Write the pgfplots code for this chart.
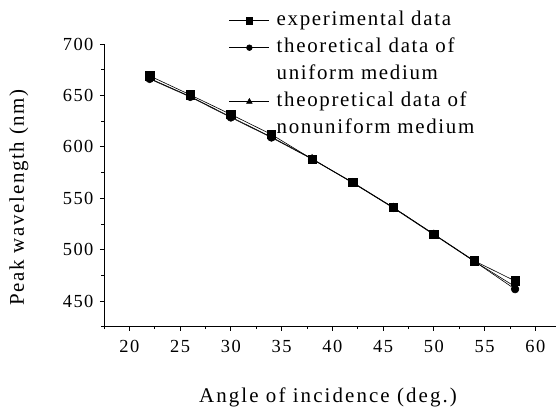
\documentclass[border=0pt]{standalone}
\usepackage{fontspec}
\setmainfont{Liberation Serif}[LetterSpace=8]
\newfontfamily\legfont{Liberation Serif}[LetterSpace=8]
\newfontfamily\labfont{Liberation Serif}[LetterSpace=10]
\newfontfamily\ylabfont{Liberation Serif}[LetterSpace=8]
\usepackage{pgfplots}
\pgfplotsset{compat=1.18}

\pgfplotstableread{
x   expd   unif   nonu
22  669    666    666.5
26  650.5  648.5  649
30  631.5  628.5  629
34  612    609    609.5
38  588    588    588.5
42  565.5  565    565
46  541    540.5  541
50  515    514.5  515
54  489    488.5  488.5
58  469.5  461.5  464
}\peak

\begin{document}
\begin{tikzpicture}
\begin{axis}[
  name=ax, at={(0,0)}, anchor=south west,
  x=10.15bp, y=1.028bp,
  xmin=17.5, xmax=62, ymin=425, ymax=700,
  axis lines=left, axis line style={-, line width=0.9pt},
  xtick={20,25,...,60}, ytick={450,500,...,700},
  minor xtick={17.5,22.5,...,57.5}, minor ytick={425,475,...,675},
  tick align=outside, major tick length=4bp, minor tick length=2.5bp,
  every tick/.style={black, line width=0.8pt},
  tick label style={font=\fontsize{18.5}{21}\selectfont},
  /pgf/number format/assume math mode=true,
  xticklabel style={yshift=-6bp},
  yticklabel style={xshift=-3bp},
  xlabel={Angle of incidence (deg.)},
  ylabel={Peak wavelength (nm)},
  xlabel style={font=\labfont\fontsize{21}{24}\selectfont,
    at={(axis description cs:0.496,0)}, anchor=base, yshift=-76bp},
  ylabel style={font=\ylabfont\fontsize{21}{24}\selectfont,
    at={(axis description cs:0,0.457)}, anchor=south, yshift=72bp},
  clip=false,
  legend style={at={(0.2765,1.115)}, anchor=north west, draw=none, fill=none,
    font=\legfont\fontsize{21}{24}\selectfont, row sep=9bp, inner sep=0pt,
    nodes={inner sep=0pt, text height=14bp, text depth=4bp}},
  legend cell align=left,
  legend image code/.code={\draw[mark repeat=2,mark phase=2,line width=0.6pt,
      mark options={scale=0.75}]
    plot coordinates {(0bp,0bp) (20bp,0bp) (40bp,0bp)};
    \path (47bp,0bp);},
]
\addplot[black, line width=0.6pt, mark=square*, mark size=4.2bp] table[x=x,y=expd] {\peak};
\addlegendentry{experimental data}
\addplot[black, line width=0.6pt, mark=*, mark size=3.8bp] table[x=x,y=unif] {\peak};
\addlegendentry{theoretical data of}
\addlegendimage{empty legend}
\addlegendentry{uniform medium}
\addplot[black, line width=0.6pt, mark=triangle*, mark size=4.2bp] table[x=x,y=nonu] {\peak};
\addlegendentry{theopretical data of}
\addlegendimage{empty legend}
\addlegendentry{nonuniform medium}
\end{axis}
\pgfresetboundingbox
\path (ax.south west) ++(-104bp,-80.3bp) rectangle ++(556bp,407bp);
\end{tikzpicture}
\end{document}
